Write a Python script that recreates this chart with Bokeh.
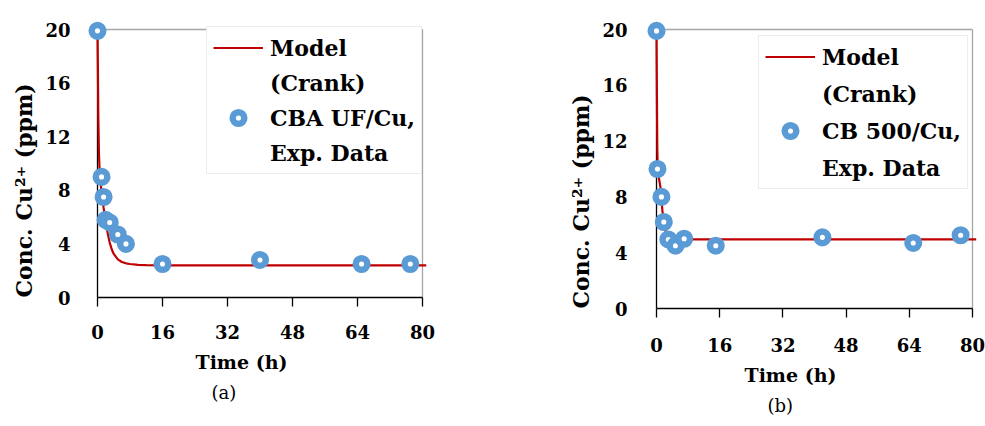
from bokeh.plotting import figure
from bokeh.models import Range1d, FixedTicker, Legend, LegendItem, Title
from bokeh.layouts import row
from bokeh.embed import file_html
from bokeh.resources import INLINE

# ---------------- data ----------------
x_ticks = [0, 16, 32, 48, 64, 80]
y_ticks = [0, 4, 8, 12, 16, 20]

# (a) CBA UF/Cu
t_exp_a = [0, 1, 1.5, 2, 3, 5, 7, 16, 40, 65, 77]
c_exp_a = [19.9, 9.0, 7.5, 5.8, 5.6, 4.7, 4.0, 2.5, 2.8, 2.5, 2.5]
t_mod_a = [0, 0.1, 0.2, 0.35, 0.5, 0.75, 1.0, 1.25, 1.5, 2.0, 2.5, 3.0, 3.5, 4.0,
           5.0, 6.0, 7.0, 8.0, 10, 12, 16, 30, 50, 81]
c_mod_a = [20, 17.0, 13.5, 10.8, 9.6, 8.6, 7.9, 7.3, 6.7, 5.7, 4.8, 4.1, 3.6, 3.25,
           2.85, 2.65, 2.55, 2.5, 2.44, 2.41, 2.4, 2.4, 2.4, 2.4]

# (b) CB 500/Cu
t_exp_b = [0, 0.25, 1.25, 1.85, 3, 4.8, 7, 15, 42, 65, 77]
c_exp_b = [19.9, 10.0, 8.0, 6.2, 4.95, 4.5, 5.0, 4.5, 5.1, 4.7, 5.25]
t_mod_b = [0, 0.1, 0.2, 0.3, 0.5, 0.75, 1.0, 1.25, 1.5, 1.75, 2.0, 2.5, 3.0, 3.5,
           4.0, 5.0, 6, 8, 12, 20, 40, 60, 81]
c_mod_b = [20, 15.5, 11.5, 10.2, 9.6, 9.1, 8.7, 7.9, 7.0, 6.4, 5.9, 5.3, 5.05, 4.98,
           4.95, 4.95, 4.95, 4.95, 4.95, 4.95, 4.95, 4.95, 4.95]

model_label = ["Model", "(Crank)"]
exp_label_a = ["CBA UF/Cu,", "Exp. Data"]
exp_label_b = ["CB 500/Cu,", "Exp. Data"]
x_title = "Time (h)"
y_title = "Conc. Cu\u00b2\u207a (ppm)"

FONT = "DejaVu Serif"
RED = "#C00000"
BLUE = "#5B9BD5"
GRAY = "#A6A6A6"
FRAME_TOP = 19
BORDER_BOTTOM = 118


def spacer(gap):
    return Title(text=".", text_font_size="1px", text_alpha=0, standoff=gap)


def panel(t_exp, c_exp, t_mod, c_mod, exp_label, letter, g):
    x_lo, x_hi = x_ticks[0], x_ticks[-1]
    y_lo, y_hi = y_ticks[0], y_ticks[-1]
    pad_l, pad_r = 10, 4
    xs = (x_hi - x_lo) / (g["fx1"] - g["fx0"])
    ys = (y_hi - y_lo) / (g["fy0"] - g["fy1"])
    frame_left = g["fx0"] - pad_l
    frame_right = g["fx1"] + pad_r
    frame_bottom = g["fy0"]
    width = g["right"] - g["left"]
    height = frame_bottom + BORDER_BOTTOM
    p = figure(width=width, height=height, output_backend="svg", toolbar_location=None,
               x_range=Range1d(x_lo - pad_l * xs, x_hi + pad_r * xs),
               y_range=Range1d(y_lo, y_hi + (g["fy1"] - FRAME_TOP) * ys),
               min_border_left=frame_left - g["left"],
               min_border_right=g["right"] - frame_right,
               min_border_top=FRAME_TOP,
               min_border_bottom=BORDER_BOTTOM)
    p.outline_line_color = None
    p.grid.visible = False
    p.background_fill_color = "white"
    p.border_fill_color = "white"

    # axes
    p.xaxis.ticker = FixedTicker(ticks=x_ticks)
    p.xaxis.bounds = (x_lo, x_hi)
    p.xaxis.axis_line_color = "black"
    p.xaxis.axis_line_width = 1.3
    p.xaxis.major_tick_out = 9
    p.xaxis.major_tick_in = 0
    p.xaxis.major_tick_line_width = 1.3
    p.xaxis.minor_tick_line_color = None
    p.xaxis.major_label_standoff = g["xstand"]
    p.yaxis.ticker = FixedTicker(ticks=y_ticks)
    p.yaxis.axis_line_color = None
    p.yaxis.major_tick_line_color = None
    p.yaxis.minor_tick_line_color = None
    p.yaxis.major_label_standoff = g["ystand"]
    for ax in (p.xaxis, p.yaxis):
        ax.major_label_text_font = FONT
        ax.major_label_text_font_style = "bold"
        ax.major_label_text_font_size = "18px"
        ax.major_label_text_color = "black"

    # frame lines: black y axis, gray top and right
    p.segment(x0=[x_lo], y0=[y_lo], x1=[x_lo], y1=[y_hi], line_color="black", line_width=1.3)
    p.segment(x0=[x_lo, x_hi], y0=[y_hi, y_lo], x1=[x_hi, x_hi], y1=[y_hi, y_hi],
              line_color=GRAY, line_width=1.3)

    line = p.line(t_mod, c_mod, line_color=RED, line_width=2.2)
    pts = p.scatter(t_exp, c_exp, size=11.6, fill_color="white", line_color=BLUE,
                    line_width=6.5)
    blank = p.line([], [], line_alpha=0)

    lg = g["legend"]
    legend = Legend(items=[LegendItem(label=model_label[0], renderers=[line]),
                           LegendItem(label=model_label[1], renderers=[blank]),
                           LegendItem(label=exp_label[0], renderers=[pts]),
                           LegendItem(label=exp_label[1], renderers=[blank])],
                    location=(lg[0] - frame_left, frame_bottom - lg[1]),
                    border_line_color="#D9D9D9", border_line_width=1.5,
                    background_fill_color="white", background_fill_alpha=1,
                    label_text_font=FONT, label_text_font_style="bold",
                    label_text_font_size="22px", label_text_color="black",
                    glyph_width=50, glyph_height=29, label_standoff=7,
                    padding=6, spacing=g["spacing"], margin=0)
    p.add_layout(legend)

    p.add_layout(Title(text=x_title, align="left", offset=g["xt_off"], standoff=g["xt_st"],
                       text_font=FONT, text_font_style="bold", text_font_size="19px",
                       text_color="black"), "below")
    p.add_layout(spacer(g["sp2"]), "below")
    p.add_layout(Title(text=letter, align="left", offset=g["let_off"], standoff=0,
                       text_font=FONT, text_font_style="normal", text_font_size="18px",
                       text_color="black"), "below")
    p.add_layout(Title(text=y_title, align="left", offset=0,
                       standoff=g["yt_st"], text_font=FONT, text_font_style="bold",
                       text_font_size="22px", text_color="black"), "left")
    return p


ga = dict(left=0, right=440, fx0=97, fx1=422, fy1=29, fy0=297, ystand=11, xstand=18,
          legend=(206, 174), spacing=6, xt_off=108, xt_st=14, let_off=124, sp2=8,
          yt_st=12)
gb = dict(left=440, right=985, fx0=656, fx1=972, fy1=29, fy0=308, ystand=13, xstand=20,
          legend=(758, 189), spacing=8, xt_off=98, xt_st=14, let_off=121, sp2=8,
          yt_st=12)

pa = panel(t_exp_a, c_exp_a, t_mod_a, c_mod_a, exp_label_a, "(a)", ga)
pb = panel(t_exp_b, c_exp_b, t_mod_b, c_mod_b, exp_label_b, "(b)", gb)

layout = row(pa, pb)
open("out.html", "w").write(file_html(layout, INLINE))
